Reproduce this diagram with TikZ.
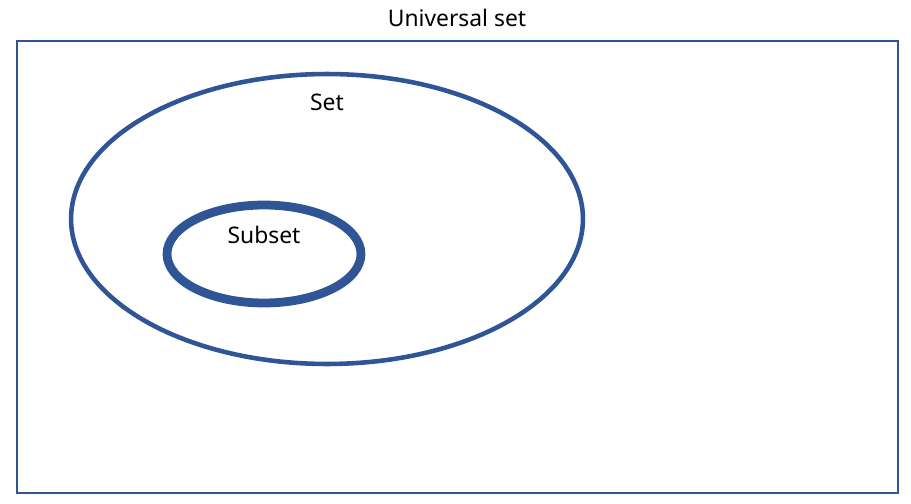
\documentclass[tikz,border=0pt]{standalone}
\usepackage{fontspec}
\setmainfont{Noto Sans}
\usetikzlibrary{shapes.geometric}
\definecolor{setblue}{RGB}{47,85,151}

\begin{document}
\begin{tikzpicture}[x=0.02cm,y=-0.02cm,
	setshape/.style={ellipse,draw=setblue,inner sep=0pt},
	label/.style={font=\fontsize{13}{15}\selectfont}]
	\useasboundingbox (0,0) rectangle (911,503);
	\node (U) [draw=setblue,line width=1.1pt,minimum width=17.62cm,minimum height=9.04cm,inner sep=0pt] at (457.5,267){};
	\node (Ulab) [label] at (457,18){Universal set};
	\node (S) [setshape,line width=2.6pt,minimum width=10.24cm,minimum height=5.8cm] at (327,219){};
	\node (Slab) [label] at (327,102){Set};
	\node (B) [setshape,line width=5pt,minimum width=3.88cm,minimum height=1.96cm] at (264,254){};
	\node (Blab) [label] at (264,235){Subset};
\end{tikzpicture}
\end{document}
